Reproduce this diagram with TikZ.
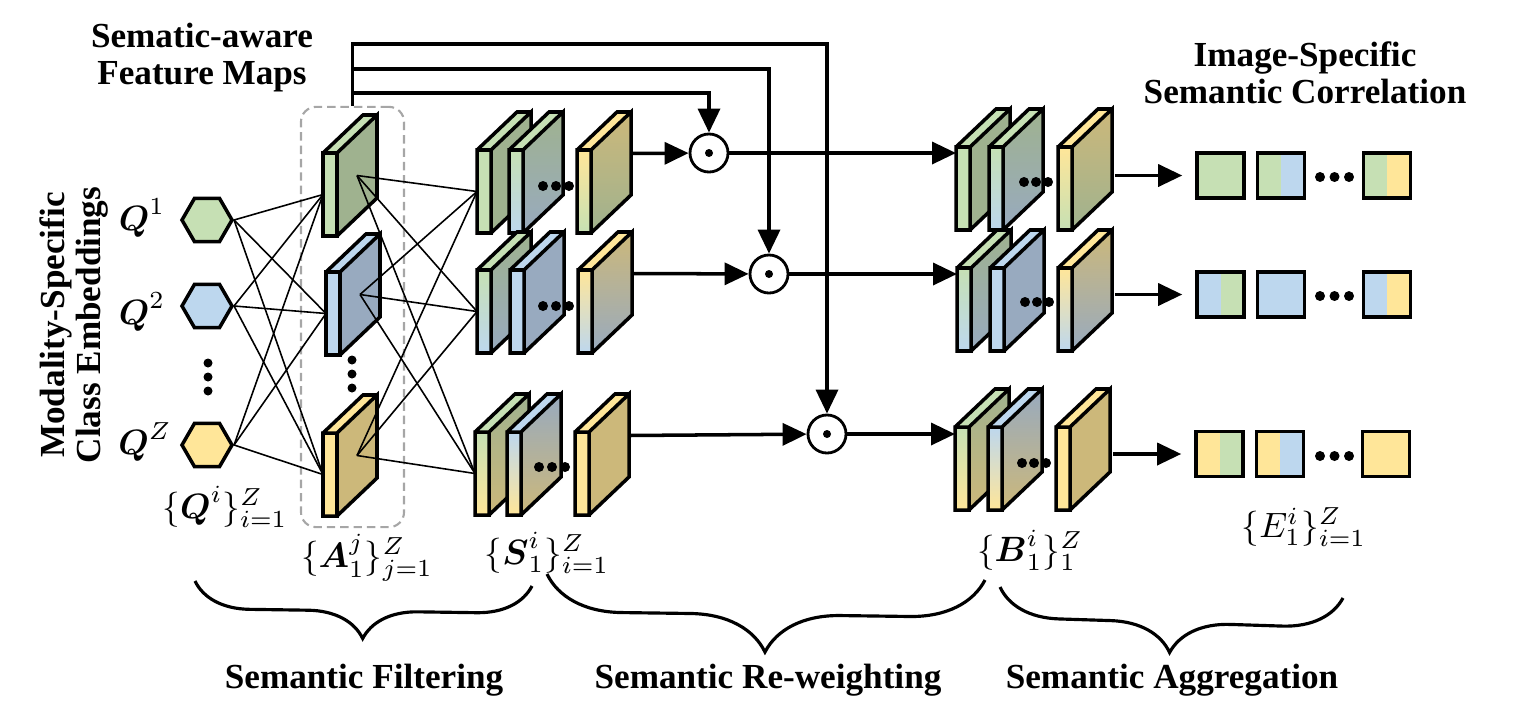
\documentclass[tikz,border=0pt]{standalone}
\usepackage{fontspec}
\setmainfont{Liberation Serif}
\usepackage{amsmath}
\usetikzlibrary{arrows.meta,shapes.geometric,decorations.pathreplacing,calc}
\definecolor{gl}{HTML}{C6E0B4}
\definecolor{gd}{HTML}{9FB28F}
\definecolor{bl}{HTML}{BDD7EE}
\definecolor{bd}{HTML}{98AABF}
\definecolor{yl}{HTML}{FFE699}
\definecolor{yd}{HTML}{CCB87A}
\tikzset{
  fmline/.style={line width=1pt},
  link/.style={line width=0.45pt},
  arr/.style={line width=1pt,-{Triangle[length=0.24cm,width=0.22cm]}},
  hexa/.style={regular polygon,regular polygon sides=6,minimum size=0.5cm,inner sep=0pt,draw,line width=1pt},
  prod/.style={circle,draw,line width=0.8pt,minimum size=0.38cm,inner sep=0pt},
  esq/.style={draw,line width=1pt,minimum width=0.47cm,minimum height=0.45cm,inner sep=0pt},
  title/.style={font=\bfseries\fontsize{10}{10.5}\selectfont,align=center},
  brc/.style={decorate,decoration={brace,mirror,amplitude=#1},line width=0.9pt},
}
% feature map slab: name, x, y, upper colour, lower colour
\newcommand{\fmap}[5]{%
\begin{scope}[shift={(#2,#3)}]
\fill[#4l] (0,0) -- (40,-38) -- (54,-38) -- (14,0) -- cycle;
\shade[top color=#4l,middle color=#5l,bottom color=#5l] (0,0) rectangle (14,83);
\shade[top color=#4d,bottom color=#5d] (14,0) -- (54,-38) -- (54,45) -- (14,83) -- cycle;
\draw[fmline] (0,0) rectangle (14,83) (14,0) -- (54,-38) -- (54,45) -- (14,83) (0,0) -- (40,-38) -- (54,-38);
\coordinate (#1-l) at (0,41.5);
\coordinate (#1-c) at (34,22.5);
\coordinate (#1-r) at (54,3.5);
\end{scope}}
% correlation square: name, position, left colour, right colour
\newcommand{\esq}[4]{\node[esq,fill=#4,path picture={\fill[#3] (path picture bounding box.south west) rectangle (path picture bounding box.north);}] (#1) at #2 {};}

\begin{document}
\begin{tikzpicture}[x=0.01cm,y=-0.01cm]
\useasboundingbox (0,0) rectangle (1516,715);
%filtering
\node[draw=gray!70,line width=0.6pt,dash pattern=on 2.4pt off 1.4pt,rounded corners=0.15cm,minimum width=1.03cm,minimum height=4.2cm] (abox) at (352.5,317) {};
\node[hexa,fill=gl] (q1) at (207,220) {};
\node[hexa,fill=bl] (q2) at (207,306) {};
\node[hexa,fill=yl] (q3) at (207,445) {};
\fmap{a1}{323}{153}{g}{g}
\fmap{a2}{326}{272}{b}{b}
\fmap{a3}{323}{433}{y}{y}
%
\fmap{s11}{477}{150}{g}{g}
\fmap{s12}{509}{150}{g}{b}
\fmap{s13}{577}{150}{y}{g}
\fmap{s21}{477}{270}{g}{b}
\fmap{s22}{510}{270}{b}{b}
\fmap{s23}{578}{270}{y}{b}
\fmap{s31}{475}{432}{g}{y}
\fmap{s32}{507}{432}{b}{y}
\fmap{s33}{575}{432}{y}{y}
%
\foreach \q in {q1,q2,q3}
  \foreach \a in {a1,a2,a3}
    \draw[link] (\q.east) -- (\a-l);
\foreach \a in {a1,a2,a3}
  \foreach \s in {s11,s21,s31}
    \draw[link] (\a-c) -- (\s-l);
% dots
\foreach \dy in {0,14,28} {
  \fill (208,363+\dy) circle (0.045cm);
  \fill (352,360+\dy) circle (0.045cm);
}
\foreach \dx in {0,13,26} {
  \fill (543+\dx,186) circle (0.05cm);
  \fill (543+\dx,306) circle (0.05cm);
  \fill (539+\dx,467) circle (0.05cm);
}
\foreach \dx in {0,14.5,29} {
  \fill (1320+\dx,177) circle (0.05cm);
  \fill (1320+\dx,296) circle (0.05cm);
  \fill (1320+\dx,456) circle (0.05cm);
}
%re-weighting
\node[prod] (o1) at (709,153) {};
\node[prod] (o2) at (769,274) {};
\node[prod] (o3) at (827,434) {};
\foreach \o in {o1,o2,o3}
  \fill (\o) circle (0.04cm);
\draw[arr] (abox.north) -- (abox.north |- 0,93) -| (o1);
\draw[arr] (abox.north) -- (abox.north |- 0,69) -| (o2);
\draw[arr] (abox.north) -- (abox.north |- 0,44) -| (o3);
\draw[arr] (s13-r) -- (o1);
\draw[arr] (s23-r) -- (o2);
\draw[arr] (s33-r) -- (o3);
%
\fmap{b11}{956}{147}{g}{g}
\fmap{b12}{989}{147}{g}{b}
\fmap{b13}{1058}{147}{y}{g}
\fmap{b21}{957}{268}{g}{b}
\fmap{b22}{990}{268}{b}{b}
\fmap{b23}{1058}{268}{y}{b}
\fmap{b31}{955}{427}{g}{y}
\fmap{b32}{988}{427}{b}{y}
\fmap{b33}{1056}{427}{y}{y}
\foreach \dx in {0,12,24} {
  \fill (1024+\dx,182) circle (0.05cm);
  \fill (1025+\dx,302) circle (0.05cm);
  \fill (1022+\dx,463) circle (0.05cm);
}
\draw[arr] (o1) -- (o1 -| b11-l);
\draw[arr] (o2) -- (o2 -| b21-l);
\draw[arr] (o3) -- (o3 -| b31-l);
%aggregation
\esq{e11}{(1220.5,175.5)}{gl}{gl}
\esq{e12}{(1281,175.5)}{gl}{bl}
\esq{e13}{(1387,175.5)}{gl}{yl}
\esq{e21}{(1220.5,294.5)}{bl}{gl}
\esq{e22}{(1281,294.5)}{bl}{bl}
\esq{e23}{(1387,294.5)}{bl}{yl}
\esq{e31}{(1219.5,454)}{yl}{gl}
\esq{e32}{(1280,454)}{yl}{bl}
\esq{e33}{(1386,454)}{yl}{yl}
\draw[arr,shorten <=0.03cm,shorten >=0.13cm] (e11.west -| b13-r) -- (e11.west);
\draw[arr,shorten <=0.03cm,shorten >=0.13cm] (e21.west -| b23-r) -- (e21.west);
\draw[arr,shorten <=0.03cm,shorten >=0.13cm] (e31.west -| b33-r) -- (e31.west);
%
\node[title] (ttl1) at (202,58) {Sematic-aware\\Feature Maps};
\node[title] (ttl2) at (1305,73) {Image-Specific\\Semantic Correlation};
\node[title,rotate=90] (ttl3) at (74,325) {Modality-Specific\\Class Embeddings};
\node (lq1) at (142,218) {$\boldsymbol{Q}^1$};
\node (lq2) at (142,312) {$\boldsymbol{Q}^2$};
\node (lq3) at (145,442) {$\boldsymbol{Q}^Z$};
\node (lq) at (225,507) {$\{\boldsymbol{Q}^i\}_{i=1}^{Z}$};
\node (la) at (367,558) {$\{\boldsymbol{A}_1^j\}_{j=1}^{Z}$};
\node (ls) at (547,553) {$\{\boldsymbol{S}_1^i\}_{i=1}^{Z}$};
\node (lb) at (1030,550) {$\{\boldsymbol{B}_1^i\}_1^{Z}$};
\node (le) at (1304,527) {$\{E_1^i\}_{i=1}^{Z}$};
%
\draw[brc=0.55cm] (195,581) -- (532,586);
\draw[brc=0.75cm] (547,574) -- (985,580);
\draw[brc=0.6cm] (1000,587) -- (1343,598);
\node[title] (st1) at (364,680) {Semantic Filtering};
\node[title] (st2) at (768,680) {Semantic Re-weighting};
\node[title] (st3) at (1172,680) {Semantic Aggregation};
\end{tikzpicture}
\end{document}
